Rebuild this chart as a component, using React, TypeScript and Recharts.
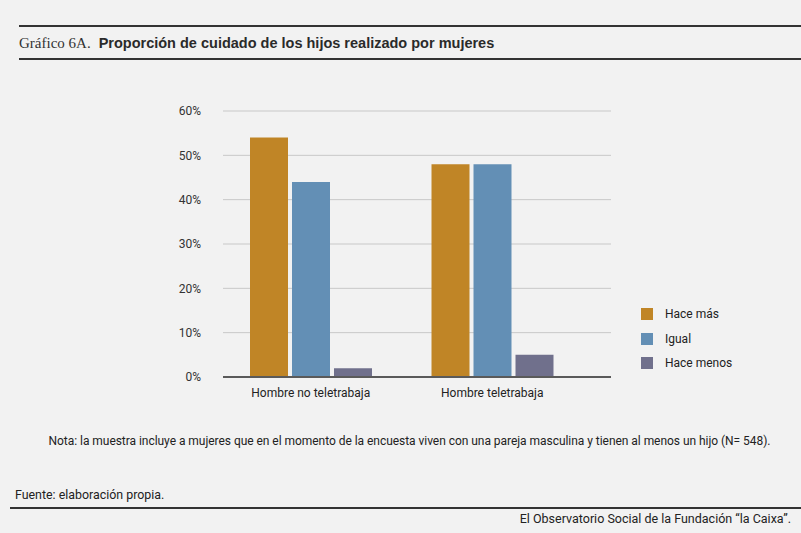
import {
  BarChart,
  Bar,
  XAxis,
  YAxis,
  CartesianGrid,
  Legend,
} from "recharts";

const categories = ["Hombre no teletrabaja", "Hombre teletrabaja"];
const haceMas = [54, 48];
const igual = [44, 48];
const haceMenos = [2, 5];
const yTicks = [0, 10, 20, 30, 40, 50, 60];

const SERIES = [
  { key: "haceMas", name: "Hace más", color: "#c08526" },
  { key: "igual", name: "Igual", color: "#638fb5" },
  { key: "haceMenos", name: "Hace menos", color: "#70708c" },
];

const data = categories.map((name, i) => ({
  name,
  haceMas: haceMas[i],
  igual: igual[i],
  haceMenos: haceMenos[i],
}));

const SANS = "Roboto, 'Liberation Sans', Arial, sans-serif";

// keep legend in series order (recharts sorts by name otherwise)
function LegendBox({ payload }: any) {
  const items = [...(payload || [])].sort(
    (a: any, b: any) =>
      SERIES.findIndex((s) => s.name === a.value) -
      SERIES.findIndex((s) => s.name === b.value)
  );
  return (
    <div>
      {items.map((p: any) => (
        <div
          key={p.value}
          style={{
            display: "flex",
            alignItems: "center",
            height: 24.5,
            fontFamily: SANS,
            fontSize: 12,
            color: "#222",
          }}
        >
          <span
            style={{
              width: 12,
              height: 12,
              background: p.color,
              marginRight: 12,
              display: "inline-block",
            }}
          />
          {p.value}
        </div>
      ))}
    </div>
  );
}

export default function App() {
  return (
    <div
      style={{
        position: "absolute",
        left: 0,
        top: 0,
        width: 801,
        height: 533,
        background: "#f2f2f2",
        overflow: "hidden",
      }}
    >
      {/* header rules and title */}
      <div style={{ position: "absolute", left: 19, right: 0, top: 25, height: 2, background: "#333" }} />
      <div
        style={{
          position: "absolute",
          left: 19,
          top: 34,
          whiteSpace: "nowrap",
          color: "#333",
        }}
      >
        <span style={{ fontFamily: "'Liberation Serif', 'DejaVu Serif', serif", fontSize: 15 }}>
          Gráfico 6A.
        </span>
        <span
          style={{
            fontFamily: "'Liberation Sans', Arial, sans-serif",
            fontSize: 14.5,
            fontWeight: 700,
            marginLeft: 8,
            color: "#2a2a2a",
          }}
        >
          Proporción de cuidado de los hijos realizado por mujeres
        </span>
      </div>
      <div style={{ position: "absolute", left: 19, right: 0, top: 58, height: 2, background: "#333" }} />

      <div style={{ position: "absolute", left: 0, top: 0 }}>
        <BarChart
          width={801}
          height={430}
          data={data}
          margin={{ top: 111, right: 70, bottom: 0, left: 163 }}
          barSize={38}
          barGap={4}
        >
          <CartesianGrid horizontal vertical={false} stroke="#c8c8c8" />
          <XAxis
            dataKey="name"
            tickLine={false}
            axisLine={{ stroke: "#5a5a5a", strokeWidth: 2 }}
            padding={{ left: -3, right: 28 }}
            tick={{ fill: "#222", fontSize: 12, fontFamily: SANS }}
            tickMargin={5}
            height={53}
          />
          <YAxis
            width={60}
            domain={[0, 60]}
            ticks={yTicks}
            tickFormatter={(v) => `${v}%`}
            tickLine={false}
            axisLine={false}
            tick={{ fill: "#333", fontSize: 12, fontFamily: SANS }}
            tickMargin={16}
          />
          <Legend
            layout="vertical"
            align="right"
            verticalAlign="top"
            width={120}
            content={<LegendBox />}
            wrapperStyle={{ top: 302, right: 40, width: 120 }}
          />
          {SERIES.map((s) => (
            <Bar
              key={s.key}
              dataKey={s.key}
              name={s.name}
              fill={s.color}
              isAnimationActive={false}
            />
          ))}
        </BarChart>
      </div>

      <div
        style={{
          position: "absolute",
          left: 9,
          width: 801,
          top: 434,
          textAlign: "center",
          fontFamily: SANS,
          fontSize: 12,
          letterSpacing: -0.04,
          color: "#222",
          whiteSpace: "nowrap",
        }}
      >
        Nota: la muestra incluye a mujeres que en el momento de la encuesta viven con una pareja masculina y tienen al menos un hijo (N= 548).
      </div>

      <div
        style={{
          position: "absolute",
          left: 15,
          top: 487,
          fontFamily: SANS,
          fontSize: 12.4,
          color: "#222",
          whiteSpace: "nowrap",
        }}
      >
        Fuente: elaboración propia.
      </div>
      <div style={{ position: "absolute", left: 10, right: 0, top: 507, height: 2, background: "#333" }} />
      <div
        style={{
          position: "absolute",
          right: 10,
          top: 511,
          fontFamily: SANS,
          fontSize: 12.5,
          color: "#222",
          whiteSpace: "nowrap",
        }}
      >
        El Observatorio Social de la Fundación “la Caixa”.
      </div>
    </div>
  );
}
